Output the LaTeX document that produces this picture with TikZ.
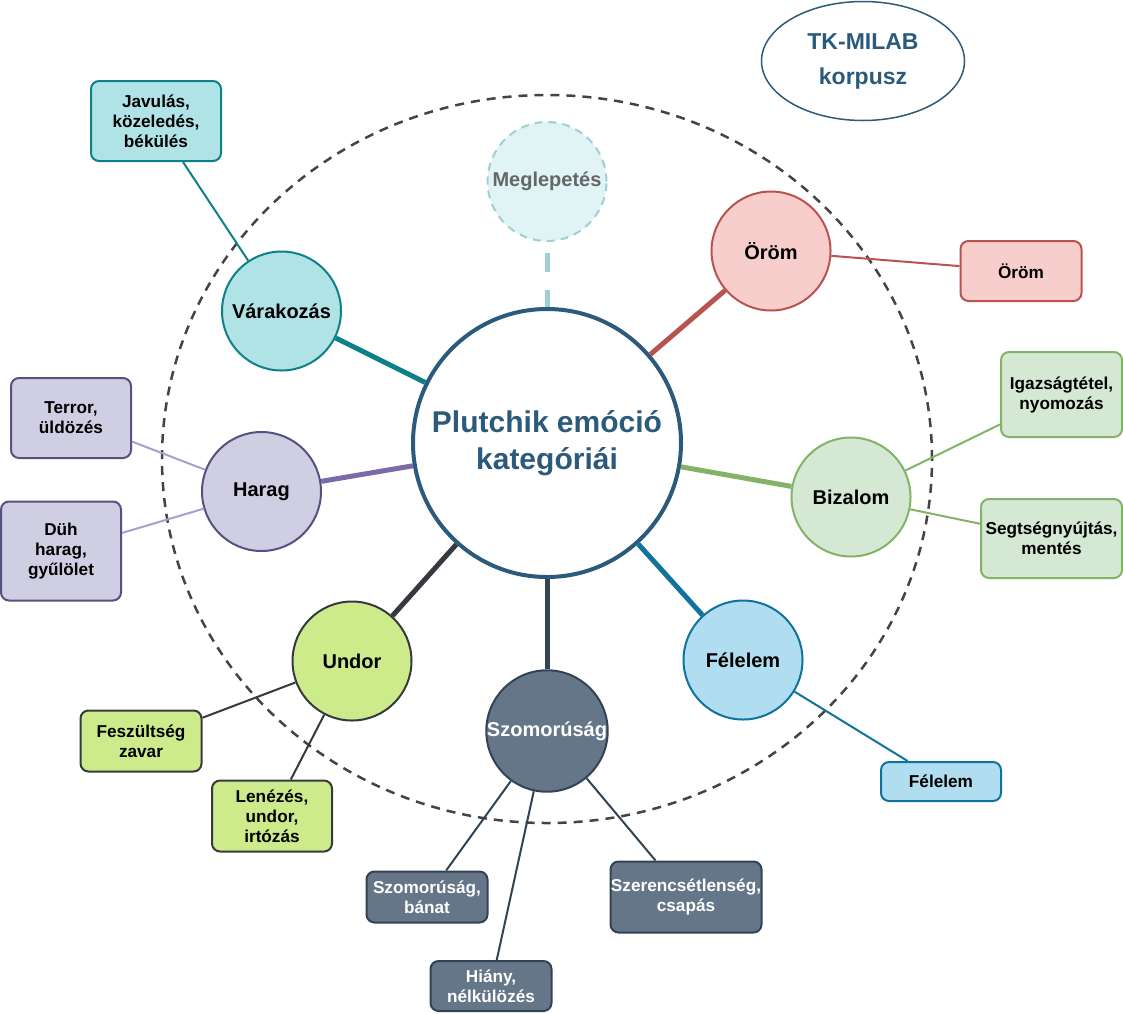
\documentclass[tikz,border=0pt]{standalone}
\usepackage{fontspec}
\setmainfont{Liberation Sans}
\usetikzlibrary{shapes.geometric}
\definecolor{centS}{HTML}{2C5A7A}
\definecolor{varF}{HTML}{B0E3E6}\definecolor{varS}{HTML}{0E8088}
\definecolor{orF}{HTML}{F8CECC}\definecolor{orS}{HTML}{B85450}
\definecolor{bizF}{HTML}{D5E8D4}\definecolor{bizS}{HTML}{82B366}
\definecolor{felF}{HTML}{B1DDF0}\definecolor{felS}{HTML}{10739E}
\definecolor{szF}{HTML}{647687}\definecolor{szS}{HTML}{314354}
\definecolor{unF}{HTML}{CDEB8B}\definecolor{unS}{HTML}{36393D}
\definecolor{haF}{HTML}{D0CEE2}\definecolor{haS}{HTML}{56517E}
\definecolor{haL}{HTML}{7A6AAA}\definecolor{haT}{HTML}{A8A0CC}
\definecolor{meF}{HTML}{E0F4F5}\definecolor{meS}{HTML}{9FCFD3}
\definecolor{meT}{HTML}{666666}
\definecolor{ringC}{HTML}{444444}
\tikzset{
  emo/.style={circle, minimum size=119pt, inner sep=0pt, line width=2pt,
    font=\fontsize{20}{24}\selectfont\bfseries, align=center},
  sub/.style={rectangle, rounded corners=8pt, line width=2pt, inner sep=0pt,
    font=\fontsize{17.2}{20}\selectfont\bfseries, align=center},
  link/.style={line width=5pt},
  sublink/.style={line width=2pt},
}
\begin{document}
\begin{tikzpicture}[x=1pt,y=-1pt]
\useasboundingbox (0,0) rectangle (1123,1013);
% outer dashed ring
\draw[ringC, line width=2.5pt, dash pattern=on 9pt off 7pt] (547,459) ellipse [x radius=385pt, y radius=364pt];

% central node
\node[circle, draw=centS, fill=white, line width=4pt, minimum size=268pt, inner sep=0pt,
  text=centS, font=\fontsize{30}{37}\selectfont\bfseries, align=center] (cent) at (547,443) {Plutchik emóció\\kategóriái};

% TK-MILAB
\node[ellipse, draw=centS, line width=1.5pt, minimum width=203pt, minimum height=119pt, inner sep=0pt,
  text=centS, font=\fontsize{23}{35}\selectfont\bfseries, align=center] (tk) at (863,61) {TK-MILAB\\korpusz};

% emotion circles
\node[emo, fill=meF, draw=meS, dash pattern=on 8pt off 6pt, text=meT] (megl) at (547,181.5) {Meglepetés};
\node[emo, fill=orF, draw=orS] (orom) at (771,251) {Öröm};
\node[emo, fill=varF, draw=varS] (var) at (281.5,311) {Várakozás};
\node[emo, fill=haF, draw=haS] (harag) at (261.5,491.5) {Harag};
\node[emo, fill=bizF, draw=bizS] (biz) at (851,497) {Bizalom};
\node[emo, fill=felF, draw=felS] (fel) at (743,660) {Félelem};
\node[emo, fill=szF, draw=szS, text=white] (szom) at (547,731) {Szomorúság};
\node[emo, fill=unF, draw=unS] (undor) at (352,661) {Undor};

% sub boxes
\node[sub, fill=varF, draw=varS, minimum width=130pt, minimum height=80pt] (jav) at (156,121) {Javulás,\\közeledés,\\békülés};
\node[sub, fill=orF, draw=orS, minimum width=121pt, minimum height=60pt] (orb) at (1021,271) {Öröm};
\node[sub, fill=haF, draw=haS, minimum width=120pt, minimum height=80pt] (ter) at (71,418) {Terror,\\üldözés};
\node[sub, fill=haF, draw=haS, minimum width=120pt, minimum height=99pt] (duh) at (61,551) {Düh\\harag,\\gyűlölet};
\node[sub, fill=bizF, draw=bizS, minimum width=121pt, minimum height=85pt] (igaz) at (1061.5,394.5) {Igazságtétel,\\nyomozás};
\node[sub, fill=bizF, draw=bizS, minimum width=141pt, minimum height=79pt] (seg) at (1051.5,538.5) {Segtségnyújtás,\\mentés};
\node[sub, fill=felF, draw=felS, minimum width=120pt, minimum height=39pt] (felb) at (941,781.5) {Félelem};
\node[sub, fill=szF, draw=szS, text=white, minimum width=121pt, minimum height=51pt] (szb) at (427,897) {Szomorúság,\\bánat};
\node[sub, fill=szF, draw=szS, text=white, minimum width=121pt, minimum height=50pt] (hia) at (491,986) {Hiány,\\nélkülözés};
\node[sub, fill=szF, draw=szS, text=white, minimum width=151pt, minimum height=71pt] (sze) at (686,897) {Szerencsétlenség,\\csapás};
\node[sub, fill=unF, draw=unS, minimum width=121pt, minimum height=61pt] (fes) at (141,741) {Feszültség\\zavar};
\node[sub, fill=unF, draw=unS, minimum width=120pt, minimum height=71pt] (len) at (272,816) {Lenézés,\\undor,\\irtózás};

% main connectors
\draw[link, meS, dash pattern=on 19pt off 18pt, dash phase=26pt] (megl) -- (cent);
\draw[link, orS] (cent) -- (orom);
\draw[link, varS] (cent) -- (var);
\draw[link, haL] (cent) -- (harag);
\draw[link, bizS] (cent) -- (biz);
\draw[link, felS] (cent) -- (fel);
\draw[link, szS] (cent) -- (szom);
\draw[link, unS] (cent) -- (undor);

% sub connectors
\draw[sublink, varS] (var) -- (jav);
\draw[sublink, orS] (orom) -- (orb);
\draw[sublink, haT] (harag) -- (ter);
\draw[sublink, haT] (harag) -- (duh);
\draw[sublink, bizS] (biz) -- (igaz);
\draw[sublink, bizS] (biz) -- (seg);
\draw[sublink, felS] (fel) -- (felb);
\draw[sublink, szS] (szom) -- (szb);
\draw[sublink, szS] (szom) -- (hia);
\draw[sublink, szS] (szom) -- (sze);
\draw[sublink, unS] (undor) -- (fes);
\draw[sublink, unS] (undor) -- (len);
\end{tikzpicture}
\end{document}
